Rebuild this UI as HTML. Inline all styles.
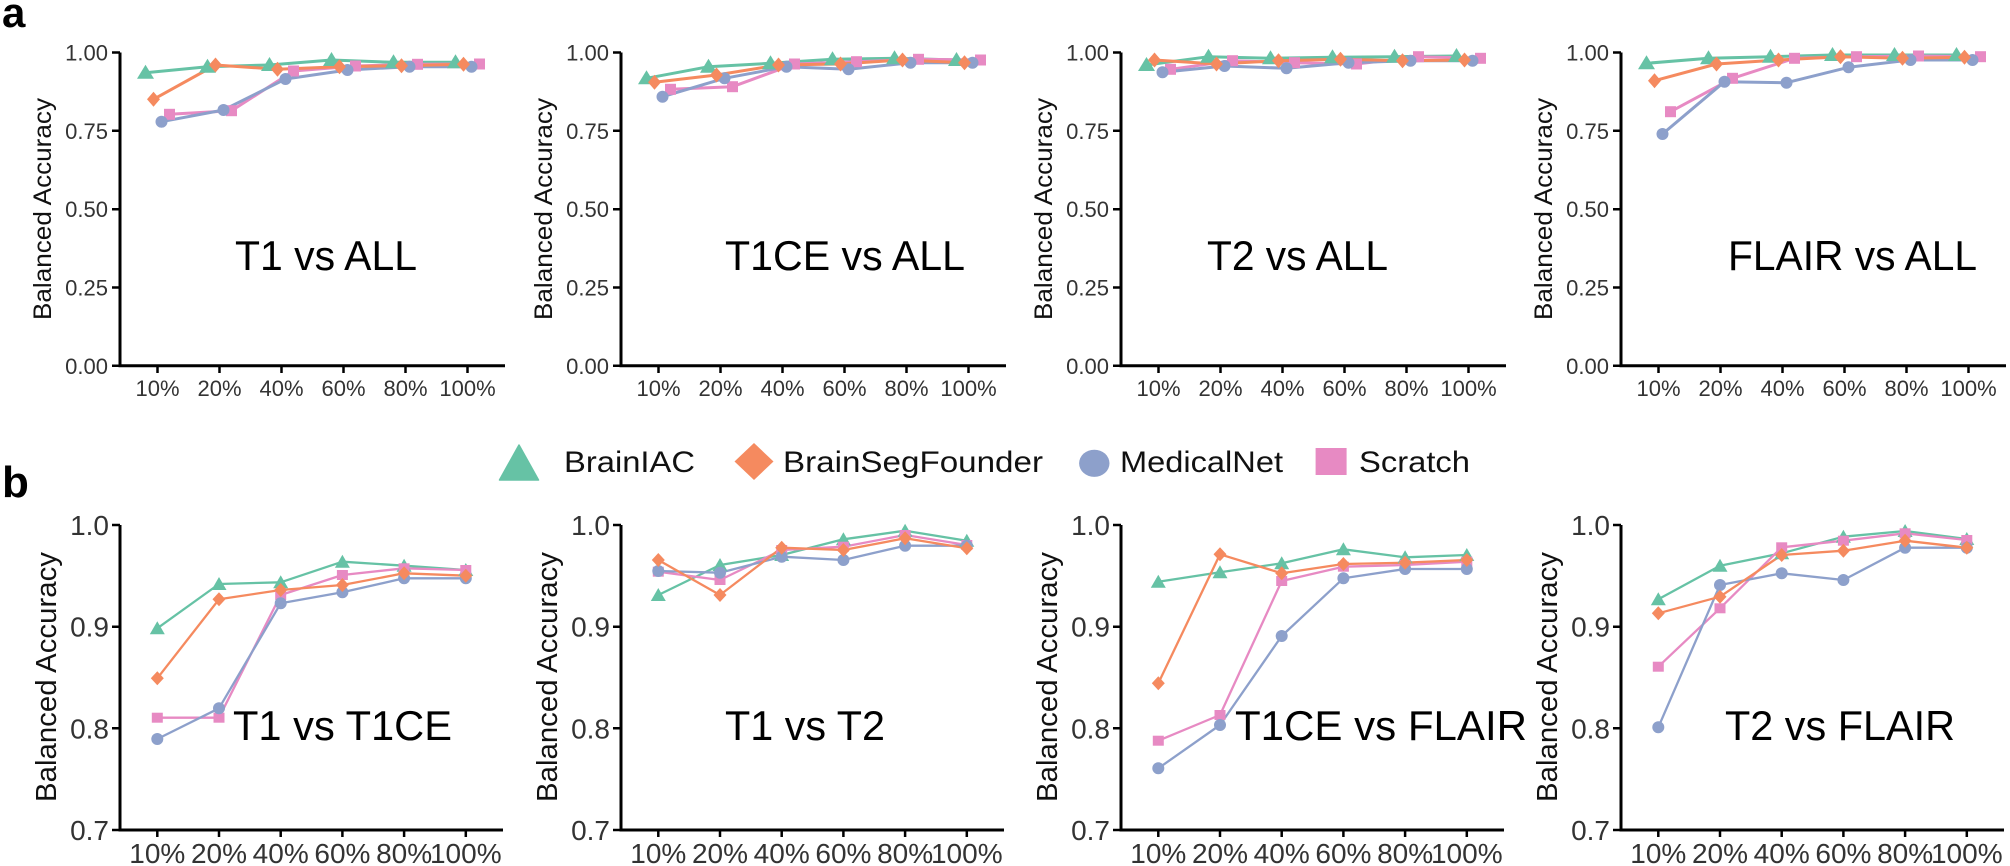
<!DOCTYPE html>
<html><head><meta charset="utf-8"><style>
html,body{margin:0;padding:0;background:#fff;}
svg{display:block;}
text{font-family:"Liberation Sans",Arial,Helvetica,sans-serif;}
.tk{fill:#333;}
</style></head><body>
<svg width="2010" height="866" viewBox="0 0 2010 866" xmlns="http://www.w3.org/2000/svg">
<defs>
<path id="triA" d="M0,-8 L8.5,6 L-8.5,6 Z"/>
<path id="diaA" d="M0,-7.5 L6.5,0 L0,7.5 L-6.5,0 Z"/>
<circle id="cirA" r="6"/>
<rect id="sqA" x="-5.5" y="-5.5" width="11" height="11"/>
<path id="triB" d="M0,-7 L7.5,6 L-7.5,6 Z"/>
<path id="diaB" d="M0,-7 L6.5,0 L0,7 L-6.5,0 Z"/>
<circle id="cirB" r="6"/>
<rect id="sqB" x="-5.5" y="-5" width="11" height="10"/>
</defs>
<rect width="2010" height="866" fill="#fff"/>

<!-- panel labels -->
<text x="2" y="27" font-size="42" font-weight="bold" fill="#000">a</text>
<text x="2" y="497" font-size="44" font-weight="bold" fill="#000">b</text>

<!-- ===== Row a axes (4 panels) ===== -->
<g id="axA">
<path d="M120,52.5V365.8H505" stroke="#000" stroke-width="3" fill="none"/>
<path d="M112,52.5H120M112,130.8H120M112,209.2H120M112,287.5H120M112,365.8H120M157.5,365.8V373M219.5,365.8V373M281.5,365.8V373M343.5,365.8V373M405.5,365.8V373M467.5,365.8V373" stroke="#000" stroke-width="2.5"/>
<g class="tk" font-size="22" text-anchor="end">
<text x="108" y="60.5">1.00</text>
<text x="108" y="138.8">0.75</text>
<text x="108" y="217.2">0.50</text>
<text x="108" y="295.5">0.25</text>
<text x="108" y="373.8">0.00</text>
</g>
<g class="tk" font-size="22" text-anchor="middle">
<text x="157.5" y="396">10%</text>
<text x="219.5" y="396">20%</text>
<text x="281.5" y="396">40%</text>
<text x="343.5" y="396">60%</text>
<text x="405.5" y="396">80%</text>
<text x="467.5" y="396">100%</text>
</g>
<text transform="translate(51,209) rotate(-90)" font-size="25" text-anchor="middle" fill="#111" textLength="222" lengthAdjust="spacingAndGlyphs">Balanced Accuracy</text>
</g>
<g transform="translate(501,0)">
<path d="M120,52.5V365.8H505" stroke="#000" stroke-width="3" fill="none"/>
<path d="M112,52.5H120M112,130.8H120M112,209.2H120M112,287.5H120M112,365.8H120M157.5,365.8V373M219.5,365.8V373M281.5,365.8V373M343.5,365.8V373M405.5,365.8V373M467.5,365.8V373" stroke="#000" stroke-width="2.5"/>
<g class="tk" font-size="22" text-anchor="end">
<text x="108" y="60.5">1.00</text>
<text x="108" y="138.8">0.75</text>
<text x="108" y="217.2">0.50</text>
<text x="108" y="295.5">0.25</text>
<text x="108" y="373.8">0.00</text>
</g>
<g class="tk" font-size="22" text-anchor="middle">
<text x="157.5" y="396">10%</text>
<text x="219.5" y="396">20%</text>
<text x="281.5" y="396">40%</text>
<text x="343.5" y="396">60%</text>
<text x="405.5" y="396">80%</text>
<text x="467.5" y="396">100%</text>
</g>
<text transform="translate(51,209) rotate(-90)" font-size="25" text-anchor="middle" fill="#111" textLength="222" lengthAdjust="spacingAndGlyphs">Balanced Accuracy</text>
</g>
<g transform="translate(1001,0)">
<path d="M120,52.5V365.8H505" stroke="#000" stroke-width="3" fill="none"/>
<path d="M112,52.5H120M112,130.8H120M112,209.2H120M112,287.5H120M112,365.8H120M157.5,365.8V373M219.5,365.8V373M281.5,365.8V373M343.5,365.8V373M405.5,365.8V373M467.5,365.8V373" stroke="#000" stroke-width="2.5"/>
<g class="tk" font-size="22" text-anchor="end">
<text x="108" y="60.5">1.00</text>
<text x="108" y="138.8">0.75</text>
<text x="108" y="217.2">0.50</text>
<text x="108" y="295.5">0.25</text>
<text x="108" y="373.8">0.00</text>
</g>
<g class="tk" font-size="22" text-anchor="middle">
<text x="157.5" y="396">10%</text>
<text x="219.5" y="396">20%</text>
<text x="281.5" y="396">40%</text>
<text x="343.5" y="396">60%</text>
<text x="405.5" y="396">80%</text>
<text x="467.5" y="396">100%</text>
</g>
<text transform="translate(51,209) rotate(-90)" font-size="25" text-anchor="middle" fill="#111" textLength="222" lengthAdjust="spacingAndGlyphs">Balanced Accuracy</text>
</g>
<g transform="translate(1501,0)">
<path d="M120,52.5V365.8H505" stroke="#000" stroke-width="3" fill="none"/>
<path d="M112,52.5H120M112,130.8H120M112,209.2H120M112,287.5H120M112,365.8H120M157.5,365.8V373M219.5,365.8V373M281.5,365.8V373M343.5,365.8V373M405.5,365.8V373M467.5,365.8V373" stroke="#000" stroke-width="2.5"/>
<g class="tk" font-size="22" text-anchor="end">
<text x="108" y="60.5">1.00</text>
<text x="108" y="138.8">0.75</text>
<text x="108" y="217.2">0.50</text>
<text x="108" y="295.5">0.25</text>
<text x="108" y="373.8">0.00</text>
</g>
<g class="tk" font-size="22" text-anchor="middle">
<text x="157.5" y="396">10%</text>
<text x="219.5" y="396">20%</text>
<text x="281.5" y="396">40%</text>
<text x="343.5" y="396">60%</text>
<text x="405.5" y="396">80%</text>
<text x="467.5" y="396">100%</text>
</g>
<text transform="translate(51,209) rotate(-90)" font-size="25" text-anchor="middle" fill="#111" textLength="222" lengthAdjust="spacingAndGlyphs">Balanced Accuracy</text>
</g>

<!-- Row a titles -->
<g font-size="42" fill="#000">
<text x="235" y="270" textLength="182" lengthAdjust="spacingAndGlyphs">T1 vs ALL</text>
<text x="725" y="270" textLength="240" lengthAdjust="spacingAndGlyphs">T1CE vs ALL</text>
<text x="1207" y="270" textLength="181" lengthAdjust="spacingAndGlyphs">T2 vs ALL</text>
<text x="1728" y="270" textLength="249" lengthAdjust="spacingAndGlyphs">FLAIR vs ALL</text>
</g>

<!-- ===== Row b axes ===== -->
<g>
<path d="M120,525V830H503" stroke="#000" stroke-width="3" fill="none"/>
<path d="M112,525H120M112,626.7H120M112,728.3H120M112,830H120M157.3,830V837M219,830V837M280.7,830V837M342.4,830V837M404.1,830V837M465.8,830V837" stroke="#000" stroke-width="2.5"/>
<g class="tk" font-size="28" text-anchor="end">
<text x="109" y="535">1.0</text>
<text x="109" y="636.7">0.9</text>
<text x="109" y="738.3">0.8</text>
<text x="109" y="840">0.7</text>
</g>
<g class="tk" font-size="28" text-anchor="middle">
<text x="157.3" y="863">10%</text>
<text x="219" y="863">20%</text>
<text x="280.7" y="863">40%</text>
<text x="342.4" y="863">60%</text>
<text x="404.1" y="863">80%</text>
<text x="465.8" y="863">100%</text>
</g>
<text transform="translate(56,677) rotate(-90)" font-size="29" text-anchor="middle" fill="#111" textLength="250" lengthAdjust="spacingAndGlyphs">Balanced Accuracy</text>
</g>
<g transform="translate(501,0)">
<path d="M120,525V830H503" stroke="#000" stroke-width="3" fill="none"/>
<path d="M112,525H120M112,626.7H120M112,728.3H120M112,830H120M157.3,830V837M219,830V837M280.7,830V837M342.4,830V837M404.1,830V837M465.8,830V837" stroke="#000" stroke-width="2.5"/>
<g class="tk" font-size="28" text-anchor="end">
<text x="109" y="535">1.0</text>
<text x="109" y="636.7">0.9</text>
<text x="109" y="738.3">0.8</text>
<text x="109" y="840">0.7</text>
</g>
<g class="tk" font-size="28" text-anchor="middle">
<text x="157.3" y="863">10%</text>
<text x="219" y="863">20%</text>
<text x="280.7" y="863">40%</text>
<text x="342.4" y="863">60%</text>
<text x="404.1" y="863">80%</text>
<text x="465.8" y="863">100%</text>
</g>
<text transform="translate(56,677) rotate(-90)" font-size="29" text-anchor="middle" fill="#111" textLength="250" lengthAdjust="spacingAndGlyphs">Balanced Accuracy</text>
</g>
<g transform="translate(1001,0)">
<path d="M120,525V830H503" stroke="#000" stroke-width="3" fill="none"/>
<path d="M112,525H120M112,626.7H120M112,728.3H120M112,830H120M157.3,830V837M219,830V837M280.7,830V837M342.4,830V837M404.1,830V837M465.8,830V837" stroke="#000" stroke-width="2.5"/>
<g class="tk" font-size="28" text-anchor="end">
<text x="109" y="535">1.0</text>
<text x="109" y="636.7">0.9</text>
<text x="109" y="738.3">0.8</text>
<text x="109" y="840">0.7</text>
</g>
<g class="tk" font-size="28" text-anchor="middle">
<text x="157.3" y="863">10%</text>
<text x="219" y="863">20%</text>
<text x="280.7" y="863">40%</text>
<text x="342.4" y="863">60%</text>
<text x="404.1" y="863">80%</text>
<text x="465.8" y="863">100%</text>
</g>
<text transform="translate(56,677) rotate(-90)" font-size="29" text-anchor="middle" fill="#111" textLength="250" lengthAdjust="spacingAndGlyphs">Balanced Accuracy</text>
</g>
<g transform="translate(1501,0)">
<path d="M120,525V830H503" stroke="#000" stroke-width="3" fill="none"/>
<path d="M112,525H120M112,626.7H120M112,728.3H120M112,830H120M157.3,830V837M219,830V837M280.7,830V837M342.4,830V837M404.1,830V837M465.8,830V837" stroke="#000" stroke-width="2.5"/>
<g class="tk" font-size="28" text-anchor="end">
<text x="109" y="535">1.0</text>
<text x="109" y="636.7">0.9</text>
<text x="109" y="738.3">0.8</text>
<text x="109" y="840">0.7</text>
</g>
<g class="tk" font-size="28" text-anchor="middle">
<text x="157.3" y="863">10%</text>
<text x="219" y="863">20%</text>
<text x="280.7" y="863">40%</text>
<text x="342.4" y="863">60%</text>
<text x="404.1" y="863">80%</text>
<text x="465.8" y="863">100%</text>
</g>
<text transform="translate(56,677) rotate(-90)" font-size="29" text-anchor="middle" fill="#111" textLength="250" lengthAdjust="spacingAndGlyphs">Balanced Accuracy</text>
</g>

<!-- Row b titles -->
<g font-size="42" fill="#000">
<text x="233" y="740" textLength="219" lengthAdjust="spacingAndGlyphs">T1 vs T1CE</text>
<text x="725" y="740" textLength="160" lengthAdjust="spacingAndGlyphs">T1 vs T2</text>
<text x="1235" y="740" textLength="292" lengthAdjust="spacingAndGlyphs">T1CE vs FLAIR</text>
<text x="1725" y="740" textLength="230" lengthAdjust="spacingAndGlyphs">T2 vs FLAIR</text>
</g>

<!-- ===== Row a data ===== -->
<g fill="none" stroke-width="3" stroke-linejoin="round">
<!-- a1 -->
<polyline stroke="#66C2A5" points="145.5,72.7 207.5,66.7 269.5,65 331.5,60 393.5,62.3 455.5,62.3"/>
<polyline stroke="#E78AC3" points="169.5,114.3 231.5,110.7 293.5,71 355.5,66 417.5,64.3 479.5,64"/>
<polyline stroke="#8DA0CB" points="161.5,121.7 223.5,110 285.5,79 347.5,70 409.5,66.7 471.5,66.7"/>
<polyline stroke="#F58A5F" points="153.5,99.3 215.5,65 277.5,69.3 339.5,66.7 401.5,65.7 463.5,64.3"/>
<!-- a2 -->
<polyline stroke="#66C2A5" points="646.5,78.3 708.5,66.7 770.5,63.3 832.5,59.3 894.5,58.3 956.5,60"/>
<polyline stroke="#E78AC3" points="670.5,89.3 732.5,86.7 794.5,64 856.5,61.7 918.5,59.3 980.5,60"/>
<polyline stroke="#8DA0CB" points="662.5,96.7 724.5,78.3 786.5,66.7 848.5,69.3 910.5,62.7 972.5,62.7"/>
<polyline stroke="#F58A5F" points="654.5,82.3 716.5,75 778.5,65 840.5,64 902.5,60 964.5,62.7"/>
<!-- a3 -->
<polyline stroke="#66C2A5" points="1146.5,65 1208.5,56.7 1270.5,58.3 1332.5,57.3 1394.5,56.7 1456.5,56"/>
<polyline stroke="#E78AC3" points="1170.5,69.3 1232.5,60.7 1294.5,62.7 1356.5,64 1418.5,56.7 1480.5,58.3"/>
<polyline stroke="#8DA0CB" points="1162.5,72.3 1224.5,66 1286.5,68.3 1348.5,62.7 1410.5,60.7 1472.5,60.7"/>
<polyline stroke="#F58A5F" points="1154.5,60 1216.5,64 1278.5,60.7 1340.5,59.3 1402.5,60.7 1464.5,60"/>
<!-- a4 -->
<polyline stroke="#66C2A5" points="1646.5,63.3 1708.5,58.3 1770.5,56.7 1832.5,55 1894.5,55 1956.5,55"/>
<polyline stroke="#E78AC3" points="1670.5,111.7 1732.5,78.3 1794.5,58.3 1856.5,56.7 1918.5,56 1980.5,56.7"/>
<polyline stroke="#8DA0CB" points="1662.5,134 1724.5,81.7 1786.5,82.7 1848.5,67.3 1910.5,60 1972.5,60"/>
<polyline stroke="#F58A5F" points="1654.5,80.7 1716.5,64 1778.5,60 1840.5,56.7 1902.5,58.3 1964.5,57.3"/>
</g>
<!-- a points -->
<g fill="#66C2A5">
<use href="#triA" x="145.5" y="72.7"/><use href="#triA" x="207.5" y="66.7"/><use href="#triA" x="269.5" y="65"/><use href="#triA" x="331.5" y="60"/><use href="#triA" x="393.5" y="62.3"/><use href="#triA" x="455.5" y="62.3"/>
<use href="#triA" x="646.5" y="78.3"/><use href="#triA" x="708.5" y="66.7"/><use href="#triA" x="770.5" y="63.3"/><use href="#triA" x="832.5" y="59.3"/><use href="#triA" x="894.5" y="58.3"/><use href="#triA" x="956.5" y="60"/>
<use href="#triA" x="1146.5" y="65"/><use href="#triA" x="1208.5" y="56.7"/><use href="#triA" x="1270.5" y="58.3"/><use href="#triA" x="1332.5" y="57.3"/><use href="#triA" x="1394.5" y="56.7"/><use href="#triA" x="1456.5" y="56"/>
<use href="#triA" x="1646.5" y="63.3"/><use href="#triA" x="1708.5" y="58.3"/><use href="#triA" x="1770.5" y="56.7"/><use href="#triA" x="1832.5" y="55"/><use href="#triA" x="1894.5" y="55"/><use href="#triA" x="1956.5" y="55"/>
</g>
<g fill="#E78AC3">
<use href="#sqA" x="169.5" y="114.3"/><use href="#sqA" x="231.5" y="110.7"/><use href="#sqA" x="293.5" y="71"/><use href="#sqA" x="355.5" y="66"/><use href="#sqA" x="417.5" y="64.3"/><use href="#sqA" x="479.5" y="64"/>
<use href="#sqA" x="670.5" y="89.3"/><use href="#sqA" x="732.5" y="86.7"/><use href="#sqA" x="794.5" y="64"/><use href="#sqA" x="856.5" y="61.7"/><use href="#sqA" x="918.5" y="59.3"/><use href="#sqA" x="980.5" y="60"/>
<use href="#sqA" x="1170.5" y="69.3"/><use href="#sqA" x="1232.5" y="60.7"/><use href="#sqA" x="1294.5" y="62.7"/><use href="#sqA" x="1356.5" y="64"/><use href="#sqA" x="1418.5" y="56.7"/><use href="#sqA" x="1480.5" y="58.3"/>
<use href="#sqA" x="1670.5" y="111.7"/><use href="#sqA" x="1732.5" y="78.3"/><use href="#sqA" x="1794.5" y="58.3"/><use href="#sqA" x="1856.5" y="56.7"/><use href="#sqA" x="1918.5" y="56"/><use href="#sqA" x="1980.5" y="56.7"/>
</g>
<g fill="#8DA0CB">
<use href="#cirA" x="161.5" y="121.7"/><use href="#cirA" x="223.5" y="110"/><use href="#cirA" x="285.5" y="79"/><use href="#cirA" x="347.5" y="70"/><use href="#cirA" x="409.5" y="66.7"/><use href="#cirA" x="471.5" y="66.7"/>
<use href="#cirA" x="662.5" y="96.7"/><use href="#cirA" x="724.5" y="78.3"/><use href="#cirA" x="786.5" y="66.7"/><use href="#cirA" x="848.5" y="69.3"/><use href="#cirA" x="910.5" y="62.7"/><use href="#cirA" x="972.5" y="62.7"/>
<use href="#cirA" x="1162.5" y="72.3"/><use href="#cirA" x="1224.5" y="66"/><use href="#cirA" x="1286.5" y="68.3"/><use href="#cirA" x="1348.5" y="62.7"/><use href="#cirA" x="1410.5" y="60.7"/><use href="#cirA" x="1472.5" y="60.7"/>
<use href="#cirA" x="1662.5" y="134"/><use href="#cirA" x="1724.5" y="81.7"/><use href="#cirA" x="1786.5" y="82.7"/><use href="#cirA" x="1848.5" y="67.3"/><use href="#cirA" x="1910.5" y="60"/><use href="#cirA" x="1972.5" y="60"/>
</g>
<g fill="#F58A5F">
<use href="#diaA" x="153.5" y="99.3"/><use href="#diaA" x="215.5" y="65"/><use href="#diaA" x="277.5" y="69.3"/><use href="#diaA" x="339.5" y="66.7"/><use href="#diaA" x="401.5" y="65.7"/><use href="#diaA" x="463.5" y="64.3"/>
<use href="#diaA" x="654.5" y="82.3"/><use href="#diaA" x="716.5" y="75"/><use href="#diaA" x="778.5" y="65"/><use href="#diaA" x="840.5" y="64"/><use href="#diaA" x="902.5" y="60"/><use href="#diaA" x="964.5" y="62.7"/>
<use href="#diaA" x="1154.5" y="60"/><use href="#diaA" x="1216.5" y="64"/><use href="#diaA" x="1278.5" y="60.7"/><use href="#diaA" x="1340.5" y="59.3"/><use href="#diaA" x="1402.5" y="60.7"/><use href="#diaA" x="1464.5" y="60"/>
<use href="#diaA" x="1654.5" y="80.7"/><use href="#diaA" x="1716.5" y="64"/><use href="#diaA" x="1778.5" y="60"/><use href="#diaA" x="1840.5" y="56.7"/><use href="#diaA" x="1902.5" y="58.3"/><use href="#diaA" x="1964.5" y="57.3"/>
</g>

<!-- ===== Row b data ===== -->
<g fill="none" stroke-width="2.3" stroke-linejoin="round">
<!-- b1 -->
<polyline stroke="#66C2A5" points="157.3,628.3 219,584 280.7,582.3 342.4,561.7 404.1,565.7 465.8,570"/>
<polyline stroke="#E78AC3" points="157.3,717.7 219,717.7 280.7,595 342.4,575 404.1,568.3 465.8,570"/>
<polyline stroke="#8DA0CB" points="157.3,739 219,708.3 280.7,603.3 342.4,592.3 404.1,578.3 465.8,578.3"/>
<polyline stroke="#F58A5F" points="157.3,678.3 219,599.3 280.7,590 342.4,585 404.1,573.3 465.8,575.7"/>
<!-- b2 -->
<polyline stroke="#66C2A5" points="658.3,595 720,565 781.7,555 843.4,539.3 905.1,530.7 966.8,540.7"/>
<polyline stroke="#E78AC3" points="658.3,571.7 720,580 781.7,550 843.4,546.7 905.1,535 966.8,545"/>
<polyline stroke="#8DA0CB" points="658.3,571 720,572.7 781.7,556.7 843.4,560 905.1,545.7 966.8,545.7"/>
<polyline stroke="#F58A5F" points="658.3,560 720,595 781.7,547.7 843.4,550 905.1,538.3 966.8,548.3"/>
<!-- b3 -->
<polyline stroke="#66C2A5" points="1158.3,581.7 1220,572.3 1281.7,563.3 1343.4,549.3 1405.1,557.3 1466.8,555"/>
<polyline stroke="#E78AC3" points="1158.3,740.7 1220,715 1281.7,581 1343.4,566.7 1405.1,565 1466.8,561.7"/>
<polyline stroke="#8DA0CB" points="1158.3,768.3 1220,725 1281.7,636 1343.4,578.3 1405.1,569 1466.8,569"/>
<polyline stroke="#F58A5F" points="1158.3,683.3 1220,554.3 1281.7,573.3 1343.4,564 1405.1,562.7 1466.8,560"/>
<!-- b4 -->
<polyline stroke="#66C2A5" points="1658.3,599.3 1720,565.7 1781.7,553.3 1843.4,536.7 1905.1,531 1966.8,539"/>
<polyline stroke="#E78AC3" points="1658.3,666.7 1720,608.3 1781.7,547.3 1843.4,540.7 1905.1,533.3 1966.8,540"/>
<polyline stroke="#8DA0CB" points="1658.3,727.3 1720,585 1781.7,573.3 1843.4,580 1905.1,547.7 1966.8,547.7"/>
<polyline stroke="#F58A5F" points="1658.3,613.3 1720,596.7 1781.7,555 1843.4,550.7 1905.1,540.7 1966.8,547.7"/>
</g>
<g fill="#66C2A5">
<use href="#triB" x="157.3" y="628.3"/><use href="#triB" x="219" y="584"/><use href="#triB" x="280.7" y="582.3"/><use href="#triB" x="342.4" y="561.7"/><use href="#triB" x="404.1" y="565.7"/><use href="#triB" x="465.8" y="570"/>
<use href="#triB" x="658.3" y="595"/><use href="#triB" x="720" y="565"/><use href="#triB" x="781.7" y="555"/><use href="#triB" x="843.4" y="539.3"/><use href="#triB" x="905.1" y="530.7"/><use href="#triB" x="966.8" y="540.7"/>
<use href="#triB" x="1158.3" y="581.7"/><use href="#triB" x="1220" y="572.3"/><use href="#triB" x="1281.7" y="563.3"/><use href="#triB" x="1343.4" y="549.3"/><use href="#triB" x="1405.1" y="557.3"/><use href="#triB" x="1466.8" y="555"/>
<use href="#triB" x="1658.3" y="599.3"/><use href="#triB" x="1720" y="565.7"/><use href="#triB" x="1781.7" y="553.3"/><use href="#triB" x="1843.4" y="536.7"/><use href="#triB" x="1905.1" y="531"/><use href="#triB" x="1966.8" y="539"/>
</g>
<g fill="#E78AC3">
<use href="#sqB" x="157.3" y="717.7"/><use href="#sqB" x="219" y="717.7"/><use href="#sqB" x="280.7" y="595"/><use href="#sqB" x="342.4" y="575"/><use href="#sqB" x="404.1" y="568.3"/><use href="#sqB" x="465.8" y="570"/>
<use href="#sqB" x="658.3" y="571.7"/><use href="#sqB" x="720" y="580"/><use href="#sqB" x="781.7" y="550"/><use href="#sqB" x="843.4" y="546.7"/><use href="#sqB" x="905.1" y="535"/><use href="#sqB" x="966.8" y="545"/>
<use href="#sqB" x="1158.3" y="740.7"/><use href="#sqB" x="1220" y="715"/><use href="#sqB" x="1281.7" y="581"/><use href="#sqB" x="1343.4" y="566.7"/><use href="#sqB" x="1405.1" y="565"/><use href="#sqB" x="1466.8" y="561.7"/>
<use href="#sqB" x="1658.3" y="666.7"/><use href="#sqB" x="1720" y="608.3"/><use href="#sqB" x="1781.7" y="547.3"/><use href="#sqB" x="1843.4" y="540.7"/><use href="#sqB" x="1905.1" y="533.3"/><use href="#sqB" x="1966.8" y="540"/>
</g>
<g fill="#8DA0CB">
<use href="#cirB" x="157.3" y="739"/><use href="#cirB" x="219" y="708.3"/><use href="#cirB" x="280.7" y="603.3"/><use href="#cirB" x="342.4" y="592.3"/><use href="#cirB" x="404.1" y="578.3"/><use href="#cirB" x="465.8" y="578.3"/>
<use href="#cirB" x="658.3" y="571"/><use href="#cirB" x="720" y="572.7"/><use href="#cirB" x="781.7" y="556.7"/><use href="#cirB" x="843.4" y="560"/><use href="#cirB" x="905.1" y="545.7"/><use href="#cirB" x="966.8" y="545.7"/>
<use href="#cirB" x="1158.3" y="768.3"/><use href="#cirB" x="1220" y="725"/><use href="#cirB" x="1281.7" y="636"/><use href="#cirB" x="1343.4" y="578.3"/><use href="#cirB" x="1405.1" y="569"/><use href="#cirB" x="1466.8" y="569"/>
<use href="#cirB" x="1658.3" y="727.3"/><use href="#cirB" x="1720" y="585"/><use href="#cirB" x="1781.7" y="573.3"/><use href="#cirB" x="1843.4" y="580"/><use href="#cirB" x="1905.1" y="547.7"/><use href="#cirB" x="1966.8" y="547.7"/>
</g>
<g fill="#F58A5F">
<use href="#diaB" x="157.3" y="678.3"/><use href="#diaB" x="219" y="599.3"/><use href="#diaB" x="280.7" y="590"/><use href="#diaB" x="342.4" y="585"/><use href="#diaB" x="404.1" y="573.3"/><use href="#diaB" x="465.8" y="575.7"/>
<use href="#diaB" x="658.3" y="560"/><use href="#diaB" x="720" y="595"/><use href="#diaB" x="781.7" y="547.7"/><use href="#diaB" x="843.4" y="550"/><use href="#diaB" x="905.1" y="538.3"/><use href="#diaB" x="966.8" y="548.3"/>
<use href="#diaB" x="1158.3" y="683.3"/><use href="#diaB" x="1220" y="554.3"/><use href="#diaB" x="1281.7" y="573.3"/><use href="#diaB" x="1343.4" y="564"/><use href="#diaB" x="1405.1" y="562.7"/><use href="#diaB" x="1466.8" y="560"/>
<use href="#diaB" x="1658.3" y="613.3"/><use href="#diaB" x="1720" y="596.7"/><use href="#diaB" x="1781.7" y="555"/><use href="#diaB" x="1843.4" y="550.7"/><use href="#diaB" x="1905.1" y="540.7"/><use href="#diaB" x="1966.8" y="547.7"/>
</g>

<!-- ===== Legend ===== -->
<path d="M519,445 L538.5,480 L499.5,480 Z" fill="#66C2A5" stroke="#66C2A5" stroke-width="1.5" stroke-linejoin="round"/>
<text x="564" y="472" font-size="30" fill="#111" textLength="131" lengthAdjust="spacingAndGlyphs">BrainIAC</text>
<path d="M754,443 L773.5,461.5 L754,480 L734.5,461.5 Z" fill="#F58A5F"/>
<text x="783" y="472" font-size="30" fill="#111" textLength="260" lengthAdjust="spacingAndGlyphs">BrainSegFounder</text>
<ellipse cx="1094.3" cy="463.3" rx="15.2" ry="13.6" fill="#8DA0CB"/>
<text x="1120" y="472" font-size="30" fill="#111" textLength="163" lengthAdjust="spacingAndGlyphs">MedicalNet</text>
<rect x="1315.6" y="448" width="31" height="27" fill="#E78AC3"/>
<text x="1359" y="472" font-size="30" fill="#111" textLength="111" lengthAdjust="spacingAndGlyphs">Scratch</text>
</svg>
</body></html>
